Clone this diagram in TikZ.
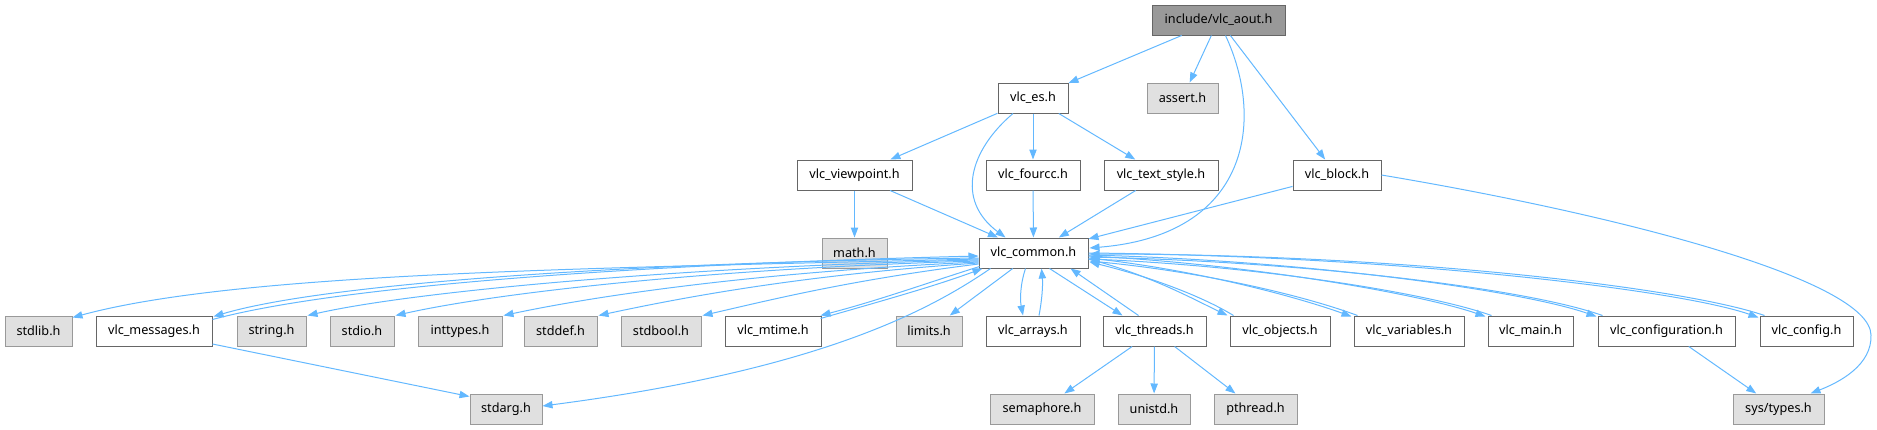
\documentclass[tikz,border=0pt]{standalone}
\usepackage{fontspec}
\setmainfont{Noto Sans}
\usetikzlibrary{arrows.meta,calc}
\definecolor{edgec}{HTML}{63B8FF}
\definecolor{bordn}{HTML}{666666}
\definecolor{bords}{HTML}{999999}
\definecolor{fills}{HTML}{E0E0E0}
\definecolor{fillm}{HTML}{999999}
\tikzset{
  nbox/.style={draw=bordn, fill=white, line width=0.75pt, minimum height=22.5pt, inner sep=1pt, font=\fontsize{9.5}{11}\selectfont},
  sbox/.style={nbox, draw=bords, fill=fills},
  mbox/.style={nbox, draw=bordn, fill=fillm},
  edge/.style={draw=edgec, line width=0.75pt, -{Triangle[length=7.5pt,width=5.5pt]}, fill=none},
}
\begin{document}
\begin{tikzpicture}[x=0.75pt,y=-0.75pt]
\useasboundingbox (0,0) rectangle (1877,429);
% row 0
\node[mbox, minimum width=99.75pt] (aout) at (1218.5,20) {include/vlc\_aout.h};
% row 1
\node[nbox, minimum width=52.5pt] (es) at (1033,98) {vlc\_es.h};
\node[sbox, minimum width=53.25pt] (assert) at (1182.5,98) {assert.h};
% row 2
\node[nbox, minimum width=86.25pt] (viewpoint) at (854.5,175) {vlc\_viewpoint.h};
\node[nbox, minimum width=70.5pt] (fourcc) at (1033,175) {vlc\_fourcc.h};
\node[nbox, minimum width=85.5pt] (textstyle) at (1161,175) {vlc\_text\_style.h};
\node[nbox, minimum width=66pt] (block) at (1337,175) {vlc\_block.h};
% row 3
\node[sbox, minimum width=48.75pt] (math) at (854.5,253) {math.h};
\node[nbox, minimum width=81.75pt] (common) at (1033.5,253) {vlc\_common.h};
% row 4
\node[sbox, minimum width=50.25pt] (stdlib) at (38.5,331) {stdlib.h};
\node[nbox, minimum width=87pt] (messages) at (154,331) {vlc\_messages.h};
\node[sbox, minimum width=51.75pt] (string) at (271.5,331) {string.h};
\node[sbox, minimum width=48pt] (stdio) at (362,331) {stdio.h};
\node[sbox, minimum width=63pt] (inttypes) at (460,331) {inttypes.h};
\node[sbox, minimum width=54.75pt] (stddef) at (560.5,331) {stddef.h};
\node[sbox, minimum width=60pt] (stdbool) at (661,331) {stdbool.h};
\node[nbox, minimum width=72pt] (mtime) at (773,331) {vlc\_mtime.h};
\node[sbox, minimum width=49.5pt] (limits) at (929,331) {limits.h};
\node[nbox, minimum width=70.5pt] (arrays) at (1033,331) {vlc\_arrays.h};
\node[nbox, minimum width=77.25pt] (threads) at (1154.5,331) {vlc\_threads.h};
\node[nbox, minimum width=75pt] (objects) at (1280,331) {vlc\_objects.h};
\node[nbox, minimum width=82.5pt] (variables) at (1409,331) {vlc\_variables.h};
\node[nbox, minimum width=63.75pt] (vmain) at (1530.5,331) {vlc\_main.h};
\node[nbox, minimum width=102.75pt] (configuration) at (1666.5,331) {vlc\_configuration.h};
\node[nbox, minimum width=69.75pt] (config) at (1806.5,331) {vlc\_config.h};
% row 5
\node[sbox, minimum width=54pt] (stdarg) at (506,409) {stdarg.h};
\node[sbox, minimum width=78pt] (semaphore) at (1042,409) {semaphore.h};
\node[sbox, minimum width=54pt] (unistd) at (1154,409) {unistd.h};
\node[sbox, minimum width=62.25pt] (pthread) at (1255.5,409) {pthread.h};
\node[sbox, minimum width=68.25pt] (systypes) at (1778.5,409) {sys/types.h};

% top edges
\draw[edge] (aout) -- (es);
\draw[edge] (aout) -- (assert);
\draw[edge] (aout) -- (block);
\draw[edge] ($(aout.south)+(7,0)$) .. controls (1265,120) and (1250,235) .. ($(common.east)+(1,-5)$);
\draw[edge] (es) -- (viewpoint);
\draw[edge] (es) -- (fourcc);
\draw[edge] (es) -- (textstyle);
\draw[edge] ($(es.south)+(-20,0)$) .. controls (970,150) and (955,200) .. ($(common.north)+(-28,0)$);
\draw[edge] (viewpoint) -- (math);
\draw[edge] (viewpoint) -- (common);
\draw[edge] (fourcc) -- (common);
\draw[edge] (textstyle) -- (common);
\draw[edge] (block) -- (common);
\draw[edge] (block.east) .. controls (1620,215) and (1870,280) .. (1871,335) .. controls (1872,365) and (1840,382) .. ($(systypes.north)+(32,0)$);

% vlc_common to the left
\draw[edge] ($(common.west)+(0,6)$) .. controls (600,268) and (240,272) .. ($(stdlib.north east)+(0,2)$);
\draw[edge] ($(common.west)+(0,5)$) .. controls (650,262) and (330,282) .. ($(messages.north east)+(1,1)$);
\draw[edge] ($(messages.north east)+(0,4)$) .. controls (340,285) and (650,264) .. ($(common.west)+(0,3)$);
\draw[edge] ($(common.west)+(0,7)$) .. controls (700,266) and (420,290) .. ($(string.north east)+(1,0)$);
\draw[edge] ($(common.west)+(0,8)$) .. controls (720,268) and (500,292) .. ($(stdio.north east)+(1,0)$);
\draw[edge] ($(common.west)+(0,9)$) .. controls (760,272) and (600,295) .. ($(inttypes.north east)+(1,0)$);
\draw[edge] ($(common.west)+(0,10)$) .. controls (800,275) and (680,298) .. ($(stddef.north east)+(1,0)$);
\draw[edge] ($(common.west)+(0,11)$) .. controls (850,280) and (770,300) .. ($(stdbool.north east)+(1,0)$);
\draw[edge] ($(common.south west)+(1,-2)$) .. controls (930,282) and (880,300) .. ($(mtime.north east)+(-1,0)$);
\draw[edge] ($(mtime.north east)+(-1,3)$) .. controls (885,300) and (935,286) .. ($(common.south west)+(4,0)$);
\draw[edge] (common) -- (limits);
\draw[edge] ($(common.south west)+(12,0)$) .. controls (930,310) and (820,370) .. ($(stdarg.east)+(0,-3)$);

% vlc_common downward
\draw[edge] ($(common.south)+(-8,0)$) .. controls (1020,285) and (1020,300) .. ($(arrays.north)+(-10,0)$);
\draw[edge] ($(arrays.north)+(6,0)$) .. controls (1042,300) and (1043,285) .. ($(common.south)+(8,0)$);
\draw[edge] ($(common.south)+(16,0)$) -- ($(threads.north)+(-32,0)$);
\draw[edge] ($(threads.north)+(-16,0)$) -- ($(common.south east)+(-18,0)$);

% vlc_common to the right
\draw[edge] ($(common.east)+(0,6)$) .. controls (1150,275) and (1195,300) .. ($(objects.north west)+(-2,0)$);
\draw[edge] ($(objects.north west)+(4,0)$) .. controls (1205,298) and (1155,278) .. ($(common.east)+(1,9)$);
\draw[edge] ($(common.east)+(0,5)$) .. controls (1200,270) and (1300,298) .. ($(variables.north west)+(-2,1)$);
\draw[edge] ($(variables.north west)+(4,0)$) .. controls (1305,296) and (1205,272) .. ($(common.east)+(1,8)$);
\draw[edge] ($(common.east)+(0,3)$) .. controls (1250,264) and (1420,294) .. ($(vmain.north west)+(-2,1)$);
\draw[edge] ($(vmain.north west)+(4,0)$) .. controls (1425,292) and (1255,266) .. ($(common.east)+(1,6)$);
\draw[edge] ($(common.east)+(0,2)$) .. controls (1300,260) and (1520,290) .. ($(configuration.north west)+(-1,1)$);
\draw[edge] ($(configuration.north west)+(5,0)$) .. controls (1525,288) and (1305,262) .. ($(common.east)+(1,4)$);
\draw[edge] ($(common.east)+(0,0)$) .. controls (1400,256) and (1680,290) .. ($(config.north west)+(-1,2)$);
\draw[edge] ($(config.north west)+(5,0)$) .. controls (1685,288) and (1405,254) .. ($(common.east)+(1,1)$);

% lower edges
\draw[edge] ($(messages.east)+(0,13)$) -- ($(stdarg.north west)+(0,3)$);
\draw[edge] (threads) -- (semaphore);
\draw[edge] (threads) -- (unistd);
\draw[edge] (threads) -- (pthread);
\draw[edge] (configuration) -- (systypes);
\end{tikzpicture}
\end{document}
